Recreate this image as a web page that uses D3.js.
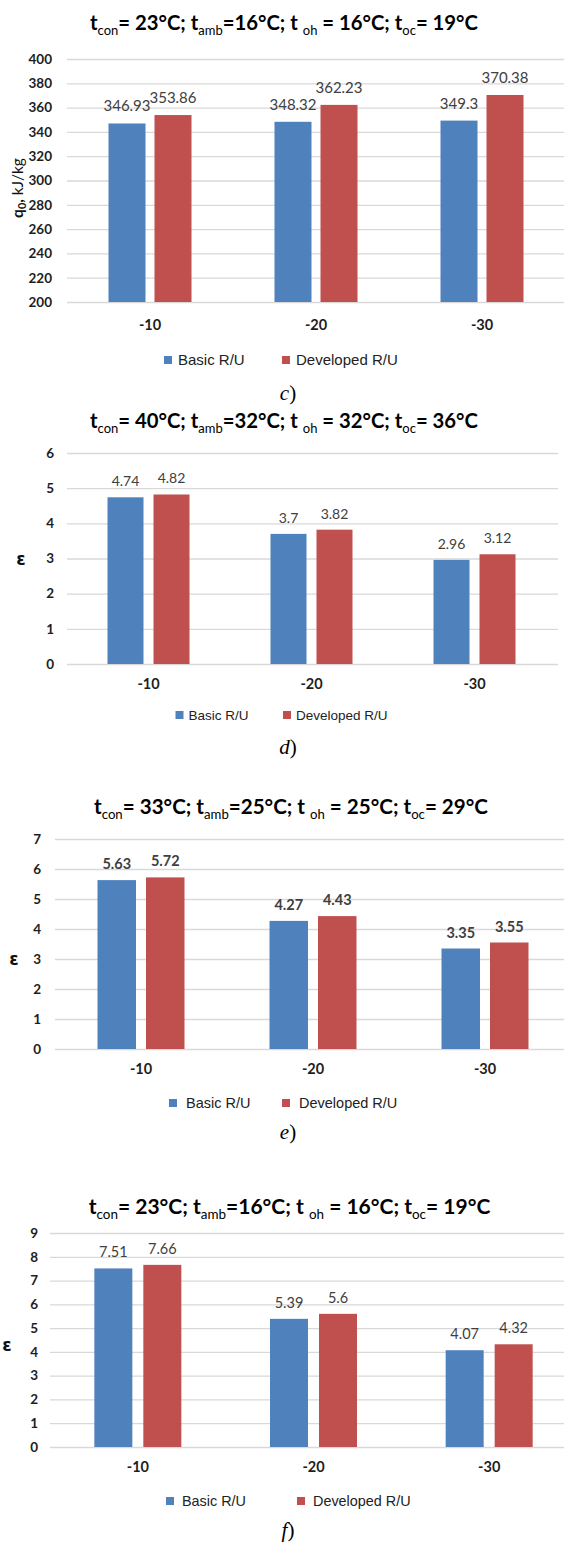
<!DOCTYPE html>
<html>
<head>
<meta charset="utf-8">
<script src="https://cdnjs.cloudflare.com/ajax/libs/d3/7.8.5/d3.min.js"></script>
<style>
  html, body { margin: 0; padding: 0; background: #fff; }
  svg { display: block; }
</style>
</head>
<body>
<div id="chart"></div>
<script>
// ---- data -----------------------------------------------------------
var categories = ["-10", "-20", "-30"];
var seriesNames = ["Basic R/U", "Developed R/U"];

// c) specific refrigerating capacity q0, kJ/kg
var qBasic = [346.93, 348.32, 349.3];
var qDeveloped = [353.86, 362.23, 370.38];
var qTicks = [200, 220, 240, 260, 280, 300, 320, 340, 360, 380, 400];
var tempsC = [23, 16, 16, 19];

// d) epsilon, t_con = 40
var epsD_basic = [4.74, 3.7, 2.96];
var epsD_developed = [4.82, 3.82, 3.12];
var epsD_ticks = [0, 1, 2, 3, 4, 5, 6];
var tempsD = [40, 32, 32, 36];

// e) epsilon, t_con = 33
var epsE_basic = [5.63, 4.27, 3.35];
var epsE_developed = [5.72, 4.43, 3.55];
var epsE_ticks = [0, 1, 2, 3, 4, 5, 6, 7];
var tempsE = [33, 25, 25, 29];

// f) epsilon, t_con = 23
var epsF_basic = [7.51, 5.39, 4.07];
var epsF_developed = [7.66, 5.6, 4.32];
var epsF_ticks = [0, 1, 2, 3, 4, 5, 6, 7, 8, 9];
var tempsF = [23, 16, 16, 19];

var COLORS = { "Basic R/U": "#4f81bd", "Developed R/U": "#c0504d" };
var SANS = "Lato, 'Open Sans', sans-serif";

var W = 564, H = 1549;
var svg = d3.select("#chart").append("svg")
  .attr("width", W).attr("height", H)
  .style("background", "#fff");

// t_con= 23°C; t_amb=16°C; t_oh = 16°C; t_oc= 19°C
function drawTitle(g, cfg, temps) {
  var parts = [
    ["t", 0], ["con", 1], ["= " + temps[0] + "°C; t", 0], ["amb", 1],
    ["=" + temps[1] + "°C; t ", 0], ["oh", 1], [" = " + temps[2] + "°C; t", 0],
    ["oc", 1], ["= " + temps[3] + "°C", 0]
  ];
  var t = g.append("text")
    .attr("x", cfg.titleX).attr("y", cfg.titleY)
    .attr("text-anchor", "middle")
    .style("font-family", SANS).style("font-weight", 700)
    .style("font-size", cfg.titleSize + "px").attr("fill", "#000");
  var shifted = false;
  parts.forEach(function (p) {
    var s = t.append("tspan").text(p[0]);
    if (p[1]) {
      s.style("font-size", (cfg.titleSize * 0.64) + "px").style("font-weight", 400)
        .attr("dy", shifted ? 0 : 5);
      shifted = true;
    } else if (shifted) {
      s.attr("dy", -5);
      shifted = false;
    }
  });
}

function drawPanel(cfg) {
  var g = svg.append("g");
  var basic = cfg.basic, dev = cfg.developed;
  var rows = categories.map(function (c, i) {
    return { cat: c, values: [{ s: seriesNames[0], v: basic[i] }, { s: seriesNames[1], v: dev[i] }] };
  });

  var x0 = d3.scaleBand().domain(categories).range([cfg.left, cfg.right]).padding(0);
  var pair = 2 * cfg.barW + cfg.gap;
  var x1 = d3.scaleBand().domain(seriesNames)
    .range([-pair / 2, pair / 2])
    .paddingInner(cfg.gap / (cfg.barW + cfg.gap)).paddingOuter(0);
  var y = d3.scaleLinear()
    .domain([cfg.ticks[0], cfg.ticks[cfg.ticks.length - 1]])
    .range([cfg.yBottom, cfg.yTop]);

  drawTitle(g, cfg, cfg.temps);

  // gridlines + y tick labels
  var ya = g.append("g").attr("transform", "translate(" + cfg.gridLeft + ",0)")
    .call(d3.axisLeft(y).tickValues(cfg.ticks)
      .tickSize(-(cfg.gridRight - cfg.gridLeft))
      .tickPadding(cfg.gridLeft - cfg.tickX)
      .tickFormat(d3.format("d")));
  ya.select(".domain").remove();
  ya.selectAll("line").attr("stroke", "#d9d9d9").attr("stroke-width", 1.3);
  ya.selectAll("text")
    .style("font-family", SANS).style("font-weight", 700)
    .style("font-size", cfg.tickSize + "px").attr("fill", "#1e1e1e");

  // bars
  var grp = g.selectAll(".grp").data(rows).enter().append("g")
    .attr("transform", function (d) { return "translate(" + (x0(d.cat) + x0.bandwidth() / 2) + ",0)"; });
  grp.selectAll("rect").data(function (d) { return d.values; }).enter().append("rect")
    .attr("x", function (d) { return x1(d.s); })
    .attr("width", x1.bandwidth())
    .attr("y", function (d) { return y(d.v); })
    .attr("height", function (d) { return cfg.yBottom - y(d.v); })
    .attr("fill", function (d) { return COLORS[d.s]; });
  grp.selectAll(".val").data(function (d) { return d.values; }).enter().append("text")
    .attr("class", "val")
    .attr("x", function (d) { return x1(d.s) + x1.bandwidth() / 2; })
    .attr("y", function (d) { return y(d.v) - cfg.labelGap; })
    .attr("text-anchor", "middle")
    .style("font-family", SANS).style("font-size", cfg.valSize + "px")
    .style("font-weight", cfg.valBold ? 700 : 400)
    .attr("fill", "#404040")
    .text(function (d) { return String(d.v); });

  // category labels
  var xa = g.append("g").attr("transform", "translate(0," + cfg.yBottom + ")")
    .call(d3.axisBottom(x0).tickSize(0));
  xa.select(".domain").remove();
  xa.selectAll("text")
    .attr("y", cfg.xLabelY - cfg.yBottom).attr("dy", "0.35em")
    .style("font-family", SANS).style("font-weight", 700)
    .style("font-size", cfg.xSize + "px").attr("fill", "#1e1e1e");

  // y axis title
  var yt = g.append("text")
    .attr("transform", "translate(" + cfg.yTitleX + "," + cfg.yTitleY + ") rotate(-90)")
    .attr("text-anchor", "middle").attr("dy", "0.35em")
    .style("font-family", SANS).style("font-weight", 700)
    .style("font-size", cfg.yTitleSize + "px").attr("fill", "#111");
  if (cfg.yTitle === "q") {
    yt.append("tspan").text("q");
    yt.append("tspan").text("0").style("font-size", "11px").attr("dy", 3);
    yt.append("tspan").text(", ").attr("dy", -3);
    yt.append("tspan").text("kJ/kg").style("font-weight", 400);
  } else {
    yt.attr("transform", null).attr("x", cfg.yTitleX).attr("y", cfg.yTitleY)
      .style("font-family", "'DejaVu Sans', sans-serif").text("ε");
  }

  // legend
  var lg = g.append("g").attr("transform", "translate(0," + cfg.legendY + ")");
  seriesNames.forEach(function (s, i) {
    var lx = cfg.legendX[i];
    lg.append("rect").attr("x", lx).attr("y", -4).attr("width", 8).attr("height", 8)
      .attr("fill", COLORS[s]);
    lg.append("text").attr("x", lx + cfg.legendTextGap).attr("y", 0).attr("dy", "0.35em")
      .style("font-family", "'Liberation Sans', Arial, sans-serif")
      .style("font-size", cfg.legendSize + "px").attr("fill", "#222")
      .text(s);
  });

  // caption
  var cap = g.append("text").attr("x", 288).attr("y", cfg.captionY).attr("dy", "0.35em")
    .attr("text-anchor", "middle")
    .style("font-family", "'Liberation Serif', 'Times New Roman', serif")
    .style("font-size", "21px").attr("fill", "#000");
  cap.append("tspan").style("font-style", "italic").text(cfg.caption);
  cap.append("tspan").text(")");
}

drawPanel({
  basic: qBasic, developed: qDeveloped, ticks: qTicks, temps: tempsC,
  titleX: 284, titleY: 30, titleSize: 20.3,
  yTop: 59, yBottom: 302, left: 67, right: 565, gridLeft: 67, gridRight: 564,
  tickX: 52, tickSize: 13.5, barW: 37, gap: 9, valSize: 15, valBold: false, labelGap: 12,
  xLabelY: 325, xSize: 14.5, yTitle: "q", yTitleX: 18, yTitleY: 188, yTitleSize: 15.5,
  legendY: 360, legendX: [164, 282], legendTextGap: 14, legendSize: 15,
  captionY: 393, caption: "c"
});

drawPanel({
  basic: epsD_basic, developed: epsD_developed, ticks: epsD_ticks, temps: tempsD,
  titleX: 284, titleY: 428, titleSize: 20.3,
  yTop: 453, yBottom: 664, left: 67, right: 556, gridLeft: 67, gridRight: 558,
  tickX: 54, tickSize: 13.5, barW: 36, gap: 10, valSize: 14, valBold: false, labelGap: 11,
  xLabelY: 684, xSize: 14.5, yTitle: "e", yTitleX: 21, yTitleY: 559, yTitleSize: 17,
  legendY: 715, legendX: [175.5, 283], legendTextGap: 13, legendSize: 13.5,
  captionY: 747, caption: "d"
});

drawPanel({
  basic: epsE_basic, developed: epsE_developed, ticks: epsE_ticks, temps: tempsE,
  titleX: 291, titleY: 814, titleSize: 20.6,
  yTop: 839, yBottom: 1049, left: 55, right: 571, gridLeft: 55, gridRight: 564,
  tickX: 41, tickSize: 13.5, barW: 38.5, gap: 10, valSize: 14.5, valBold: true, labelGap: 11,
  xLabelY: 1069, xSize: 14.5, yTitle: "e", yTitleX: 14, yTitleY: 959, yTitleSize: 17,
  legendY: 1103, legendX: [169, 282], legendTextGap: 17, legendSize: 14.5,
  captionY: 1132, caption: "e"
});

drawPanel({
  basic: epsF_basic, developed: epsF_developed, ticks: epsF_ticks, temps: tempsF,
  titleX: 289.5, titleY: 1214, titleSize: 21,
  yTop: 1233, yBottom: 1447, left: 50, right: 577, gridLeft: 50, gridRight: 564,
  tickX: 38, tickSize: 13.5, barW: 38, gap: 11, valSize: 14.5, valBold: false, labelGap: 11,
  xLabelY: 1467, xSize: 14.5, yTitle: "e", yTitleX: 7, yTitleY: 1345, yTitleSize: 17,
  legendY: 1501, legendX: [166, 297], legendTextGap: 16, legendSize: 14.4,
  captionY: 1530, caption: "f"
});
</script>
</body>
</html>
